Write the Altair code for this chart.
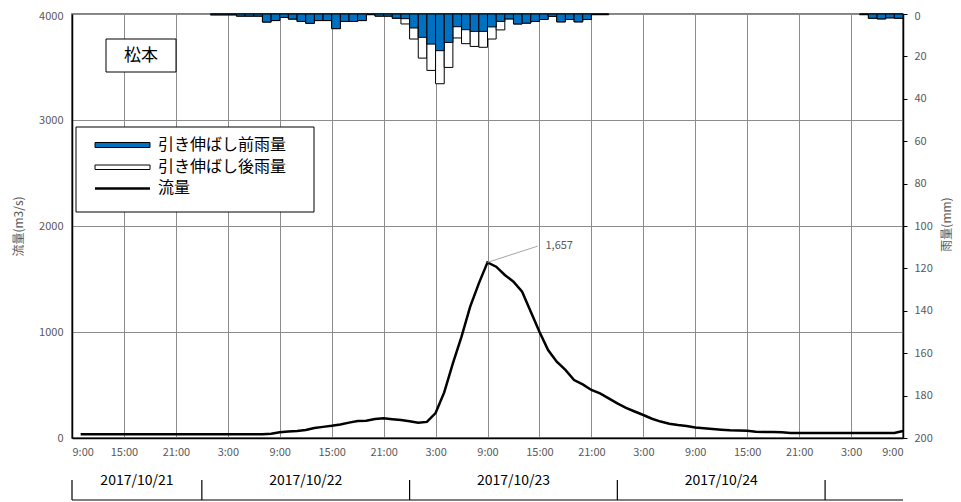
import altair as alt
import pandas as pd

FONT = "Noto Sans CJK JP"

# ---- data (hours since 2017/10/21 9:00) ----
flow_hours = list(range(1, 97))
flow_values = [
    35, 35, 35, 35, 35, 35, 35, 35, 35, 35, 35, 35, 35, 35, 35, 35, 35, 35, 35, 35, 35, 35,
    40, 55, 62, 66, 75, 95, 105, 115, 128, 145,
    160, 163, 180, 186, 178, 170, 158, 145, 152, 235,
    430, 705, 956, 1239, 1459, 1657, 1616, 1538, 1475, 1380,
    1192, 1003, 830, 720, 642, 547, 506, 453, 421, 374,
    327, 285, 250, 217, 182, 155, 135, 122, 113, 100,
    92, 85, 78, 72, 70, 68, 60, 57, 57, 55,
    47, 47, 47, 47, 47, 47, 47, 47, 47, 47, 47, 47, 47, 66,
]

rain_hours = list(range(16, 62)) + [91, 92, 93, 94, 95]
rain_before = [
    0.4, 0.4, 0.4, 1.0, 1.0, 1.0, 3.8, 3.1, 1.6, 2.4,
    3.5, 4.4, 3.1, 3.1, 6.9, 3.5, 3.5, 3.1, 0.3, 1.0,
    1.0, 2.0, 2.2, 6.6, 11.0, 14.2, 17.3, 13.4, 6.0, 7.4,
    8.2, 8.2, 6.1, 3.5, 2.3, 4.7, 4.3, 3.5, 2.6, 1.1,
    3.7, 2.6, 3.7, 2.6, 0.3, 0.3,
    0.3, 2.0, 2.3, 1.8, 2.0,
]
rain_after = [
    0.4, 0.4, 0.4, 1.0, 1.0, 1.0, 3.8, 3.1, 1.6, 2.4,
    3.5, 4.4, 3.1, 3.1, 6.9, 3.5, 3.5, 3.1, 0.3, 1.0,
    1.0, 2.0, 4.7, 11.8, 20.8, 26.6, 32.9, 25.2, 11.3, 14.0,
    15.3, 15.7, 11.8, 7.5, 2.3, 4.7, 4.3, 3.5, 2.6, 1.1,
    3.7, 2.6, 3.7, 2.6, 0.3, 0.3,
    0.3, 2.0, 2.3, 1.8, 2.0,
]

x_tick_labels = ["9:00", "15:00", "21:00", "3:00", "9:00", "15:00", "21:00", "3:00", "9:00",
                 "15:00", "21:00", "3:00", "9:00", "15:00", "21:00", "3:00", "9:00"]
flow_ticks = [0, 1000, 2000, 3000, 4000]
rain_ticks = [0, 20, 40, 60, 80, 100, 120, 140, 160, 180, 200]
date_labels = ["2017/10/21", "2017/10/22", "2017/10/23", "2017/10/24"]
day_bounds = [0, 15, 39, 63, 87]
legend_labels = ["引き伸ばし前雨量", "引き伸ばし後雨量", "流量"]
station = "松本"
peak_hour = 48
peak_flow = 1657
annot_hour = 53.8
annot_flow = 1810

# ---- tables ----
flow_df = pd.DataFrame({"hour": flow_hours, "flow": flow_values})
before_df = pd.DataFrame({"hour": rain_hours, "hour_end": [h + 1 for h in rain_hours], "rain": rain_before})
after_df = pd.DataFrame({"hour": rain_hours, "hour_end": [h + 1 for h in rain_hours], "rain": rain_after})
centers = [(day_bounds[i] + day_bounds[i + 1]) / 2 for i in range(len(date_labels))]
date_df = pd.DataFrame({"hour": centers, "label": date_labels})
sep_df = pd.DataFrame({"hour": day_bounds})
base_df = pd.DataFrame({"hour": [0], "hour_end": [96]})
annot_df = pd.DataFrame({"hour": [peak_hour], "flow": [peak_flow], "hour2": [annot_hour],
                         "flow2": [annot_flow]})
annot_txt_df = pd.DataFrame({"hour": [annot_hour + 0.9], "flow": [annot_flow], "label": [f"{peak_flow:,}"]})

GRID = "#8c8c8c"
LABEL = "#595959"

label_expr = "[" + ",".join(f"'{t}'" for t in x_tick_labels) + "][round(datum.value / 6)]"
x_scale = alt.Scale(domain=[0, 96], nice=False, zero=False)
x_axis = alt.Axis(values=list(range(0, 97, 6)), labelExpr=label_expr, grid=True, gridColor=GRID,
                  gridWidth=1, ticks=False, domainColor="black", domainWidth=1.5, labelPadding=8,
                  labelFontSize=11, labelColor=LABEL, labelFont=FONT, title=None)


def X(field="hour"):
    return alt.X(f"{field}:Q", scale=x_scale, axis=x_axis)


flow_y_axis = alt.Axis(values=flow_ticks, format="d", grid=True, gridColor=GRID, gridWidth=1,
                       ticks=False, domainColor="black", domainWidth=1.5, labelPadding=9,
                       labelOffset={"condition": {"test": "datum.value == 4000", "value": 2}, "value": 0},
                       labelFontSize=11, labelColor=LABEL, labelFont=FONT,
                       title="流量(m3/s)", titleFont=FONT, titleFontSize=12, titleFontWeight="normal",
                       titleColor=LABEL, titleX=-54, titleY=212, titleAngle=-90,
                       titleAlign="center", titleBaseline="middle")
flow_y = alt.Y("flow:Q", scale=alt.Scale(domain=[0, 4000], nice=False), axis=flow_y_axis)

rain_axis = alt.Axis(orient="right", values=rain_ticks, grid=False, ticks=True, tickSize=4,
                     tickColor="black", domainColor="black", domainWidth=1.5, labelPadding=7,
                     labelOffset={"condition": {"test": "datum.value == 0", "value": 2}, "value": 0},
                     labelFontSize=11, labelColor=LABEL, labelFont=FONT,
                     title="雨量(mm)", titleFont=FONT, titleFontSize=12, titleFontWeight="normal",
                     titleColor=LABEL, titleX=43, titleY=210, titleAngle=-90,
                     titleAlign="center", titleBaseline="middle")
rain_y = alt.Y("rain:Q", scale=alt.Scale(domain=[0, 200], reverse=True, nice=False), axis=rain_axis)

# ---- rain bars ----
white_bars = alt.Chart(after_df).mark_rect(fill="white", stroke="black", strokeWidth=1).encode(
    x=X(), x2="hour_end:Q", y=rain_y, y2=alt.datum(0))
blue_bars = alt.Chart(before_df).mark_rect(fill="#0070C0", stroke="black", strokeWidth=1).encode(
    x=X(), x2="hour_end:Q", y=rain_y, y2=alt.datum(0))
rain_group = alt.layer(white_bars, blue_bars)

# ---- flow line + annotation ----
line = alt.Chart(flow_df).mark_line(color="black", strokeWidth=2.5).encode(x=X(), y=flow_y)
leader = alt.Chart(annot_df).mark_rule(color="#a6a6a6", strokeWidth=1).encode(
    x=X(), x2="hour2:Q", y=flow_y, y2="flow2:Q")
annot_text = alt.Chart(annot_txt_df).mark_text(align="left", baseline="middle", fontSize=11,
                                               font=FONT, color=LABEL).encode(
    x=X(), y=flow_y, text="label:N")
flow_group = alt.layer(line, leader, annot_text)

# ---- date band below the axis ----
date_text = alt.Chart(date_df).mark_text(baseline="middle", fontSize=14, font=FONT, color="black").encode(
    x=X(), y=alt.value(467), text="label:N")
seps = alt.Chart(sep_df).mark_rule(color="black", strokeWidth=1.2).encode(
    x=X(), y=alt.value(466), y2=alt.value(486))
base_line = alt.Chart(base_df).mark_rule(color="black", strokeWidth=1.2).encode(
    x=X(), x2="hour_end:Q", y=alt.value(486))

# ---- legend & station box ----
one = pd.DataFrame({"a": [0]})
decor = [
    alt.Chart(one).mark_rect(fill="white", stroke="black", strokeWidth=1).encode(
        x=alt.value(4), x2=alt.value(242), y=alt.value(113), y2=alt.value(198)),
    alt.Chart(one).mark_rect(fill="#0070C0", stroke="black", strokeWidth=1).encode(
        x=alt.value(23), x2=alt.value(78), y=alt.value(128.5), y2=alt.value(133.5)),
    alt.Chart(one).mark_rect(fill="white", stroke="black", strokeWidth=1).encode(
        x=alt.value(23), x2=alt.value(78), y=alt.value(151), y2=alt.value(155.5)),
    alt.Chart(one).mark_rule(color="black", strokeWidth=2.5).encode(
        x=alt.value(23), x2=alt.value(78), y=alt.value(174.5)),
    alt.Chart(one).mark_rect(fill="white", stroke="black", strokeWidth=1).encode(
        x=alt.value(34), x2=alt.value(104), y=alt.value(25), y2=alt.value(58)),
    alt.Chart(pd.DataFrame({"t": [station]})).mark_text(
        align="center", baseline="middle", fontSize=17, font=FONT, color="black").encode(
        x=alt.value(69), y=alt.value(41.5), text="t:N"),
]
for i, lab in enumerate(legend_labels):
    decor.append(alt.Chart(pd.DataFrame({"t": [lab]})).mark_text(
        align="left", baseline="middle", fontSize=16, font=FONT, color="black").encode(
        x=alt.value(86), y=alt.value(131 + 21.7 * i), text="t:N"))

chart = alt.layer(rain_group, flow_group, date_text, seps, base_line, *decor).resolve_scale(
    y="independent"
).properties(
    width=831, height=424,
    padding={"left": 64, "top": 6, "right": 50, "bottom": 64},
    autosize=alt.AutoSizeParams(type="none"),
).configure(font=FONT).configure_view(stroke="#595959", strokeWidth=1.5)

chart.save("out.html", embed_options={"renderer": "svg", "actions": False})
